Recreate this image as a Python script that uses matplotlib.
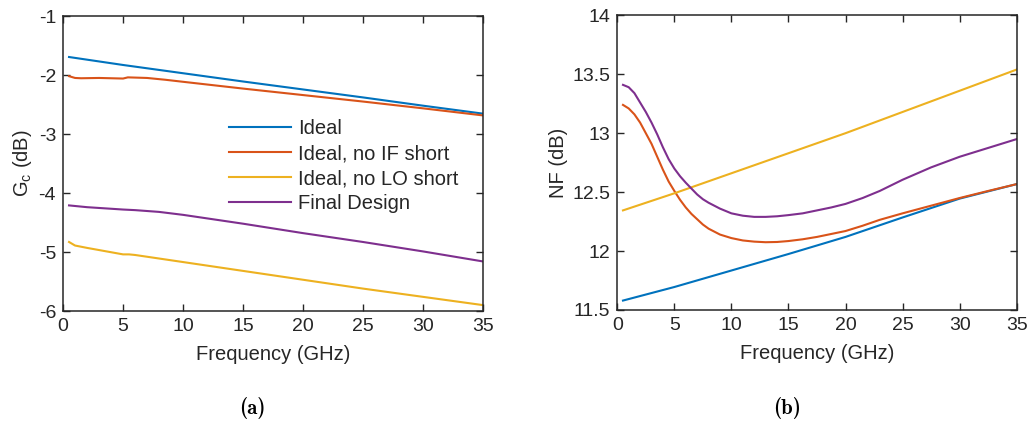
import numpy as np
import matplotlib
matplotlib.use('Agg')
import matplotlib.pyplot as plt

plt.rcParams['font.family'] = ['Liberation Sans', 'DejaVu Sans']
plt.rcParams['mathtext.fontset'] = 'custom'
plt.rcParams['mathtext.rm'] = 'Liberation Sans'
plt.rcParams['axes.unicode_minus'] = False

# colours (MATLAB default order)
c_ideal = '#0072BD'
c_noif = '#D95319'
c_nolo = '#EDB120'
c_final = '#7E2F8E'
labels = ['Ideal', 'Ideal, no IF short', 'Ideal, no LO short', 'Final Design']

# (a) conversion gain, dB
f_gc_ideal = [0.5, 5, 10, 15, 20, 25, 30, 35]
gc_ideal = [-1.695, -1.83, -1.97, -2.11, -2.245, -2.38, -2.52, -2.655]
f_gc_noif = [0.5, 1, 1.5, 3, 5, 5.4, 7, 8.5, 10, 15, 20, 25, 30, 35]
gc_noif = [-2.02, -2.05, -2.055, -2.05, -2.06, -2.04, -2.05, -2.08, -2.115, -2.23, -2.34, -2.45, -2.565, -2.685]
f_gc_nolo = [0.5, 1, 2, 5, 5.5, 6, 10, 15, 20, 25, 30, 35]
gc_nolo = [-4.83, -4.89, -4.93, -5.04, -5.04, -5.05, -5.17, -5.32, -5.47, -5.62, -5.76, -5.90]
f_gc_final = [0.5, 2, 5, 6, 8, 10, 12, 15, 20, 25, 30, 35]
gc_final = [-4.21, -4.24, -4.28, -4.29, -4.32, -4.37, -4.43, -4.52, -4.68, -4.83, -4.99, -5.16]

# (b) noise figure, dB
f_nf_lin = [0.5, 5, 10, 15, 20, 25, 30, 35]
nf_ideal = [11.58, 11.695, 11.835, 11.975, 12.12, 12.285, 12.445, 12.568]
nf_nolo = [12.345, 12.49, 12.66, 12.83, 13.0, 13.18, 13.36, 13.54]
f_nf = [0.5, 1, 1.5, 2, 2.5, 3, 3.5, 4, 4.5, 5, 5.5, 6, 6.5, 7, 7.5, 8, 9, 10, 11, 12,
        13, 14, 15, 16.25, 17.5, 18.75, 20, 21.5, 23, 25, 27.5, 30, 32.5, 35]
nf_noif = [13.24, 13.21, 13.16, 13.09, 13.00, 12.91, 12.80, 12.69, 12.59, 12.51,
           12.435, 12.37, 12.315, 12.27, 12.225, 12.19, 12.14, 12.11, 12.09, 12.08,
           12.075, 12.077, 12.085, 12.10, 12.12, 12.145, 12.17, 12.215, 12.265, 12.32,
           12.385, 12.45, 12.51, 12.568]
nf_final = [13.41, 13.39, 13.34, 13.26, 13.18, 13.09, 12.99, 12.88, 12.78, 12.70,
            12.635, 12.58, 12.53, 12.48, 12.44, 12.41, 12.36, 12.32, 12.30, 12.29,
            12.29, 12.295, 12.305, 12.32, 12.345, 12.37, 12.40, 12.45, 12.51, 12.605,
            12.71, 12.80, 12.875, 12.95]

fig = plt.figure(figsize=(10.30, 4.29), dpi=100)
ax1 = fig.add_axes([0.0612, 0.275, 0.4078, 0.6877])
ax2 = fig.add_axes([0.5993, 0.2774, 0.3878, 0.6869])

lw = 1.5
ax1.plot(f_gc_ideal, gc_ideal, color=c_ideal, lw=lw, label=labels[0])
ax1.plot(f_gc_noif, gc_noif, color=c_noif, lw=lw, label=labels[1])
ax1.plot(f_gc_nolo, gc_nolo, color=c_nolo, lw=lw, label=labels[2])
ax1.plot(f_gc_final, gc_final, color=c_final, lw=lw, label=labels[3])

ax2.plot(f_nf_lin, nf_ideal, color=c_ideal, lw=lw)
ax2.plot(f_nf, nf_noif, color=c_noif, lw=lw)
ax2.plot(f_nf_lin, nf_nolo, color=c_nolo, lw=lw)
ax2.plot(f_nf, nf_final, color=c_final, lw=lw)

ax1.set_xlim(0, 35)
ax1.set_ylim(-6, -1)
ax1.set_yticks([-6, -5, -4, -3, -2, -1])
ax2.set_xlim(0, 35)
ax2.set_ylim(11.5, 14)
ax2.set_yticks([11.5, 12, 12.5, 13, 13.5, 14])
ax2.set_yticklabels(['11.5', '12', '12.5', '13', '13.5', '14'])

edge = '#262626'
for ax in (ax1, ax2):
    ax.set_xticks(range(0, 36, 5))
    ax.tick_params(direction='in', length=5, width=1, top=True, right=True,
                   labelsize=14, colors=edge, pad=5)
    for s in ax.spines.values():
        s.set_color(edge)
        s.set_linewidth(1.1)
    ax.set_xlabel('Frequency (GHz)', fontsize=14.5, color=edge, labelpad=7)

ax1.set_ylabel(r'G$_\mathregular{c}$ (dB)', fontsize=14.5, color=edge, labelpad=3)
ax2.set_ylabel('NF (dB)', fontsize=14.5, color=edge, labelpad=3)

leg = ax1.legend(loc='upper left', bbox_to_anchor=(0.370, 0.685), frameon=False,
                 fontsize=14.5, handlelength=3.1, handletextpad=0.35,
                 labelspacing=0.3, borderpad=0)
for t in leg.get_texts():
    t.set_color(edge)

fig.text(0.245, 0.048, '(a)', fontfamily='cmb10', fontsize=15,
         ha='center', va='center')
fig.text(0.764, 0.048, '(b)', fontfamily='cmb10', fontsize=15,
         ha='center', va='center')

fig.savefig('out.png', dpi=100)
